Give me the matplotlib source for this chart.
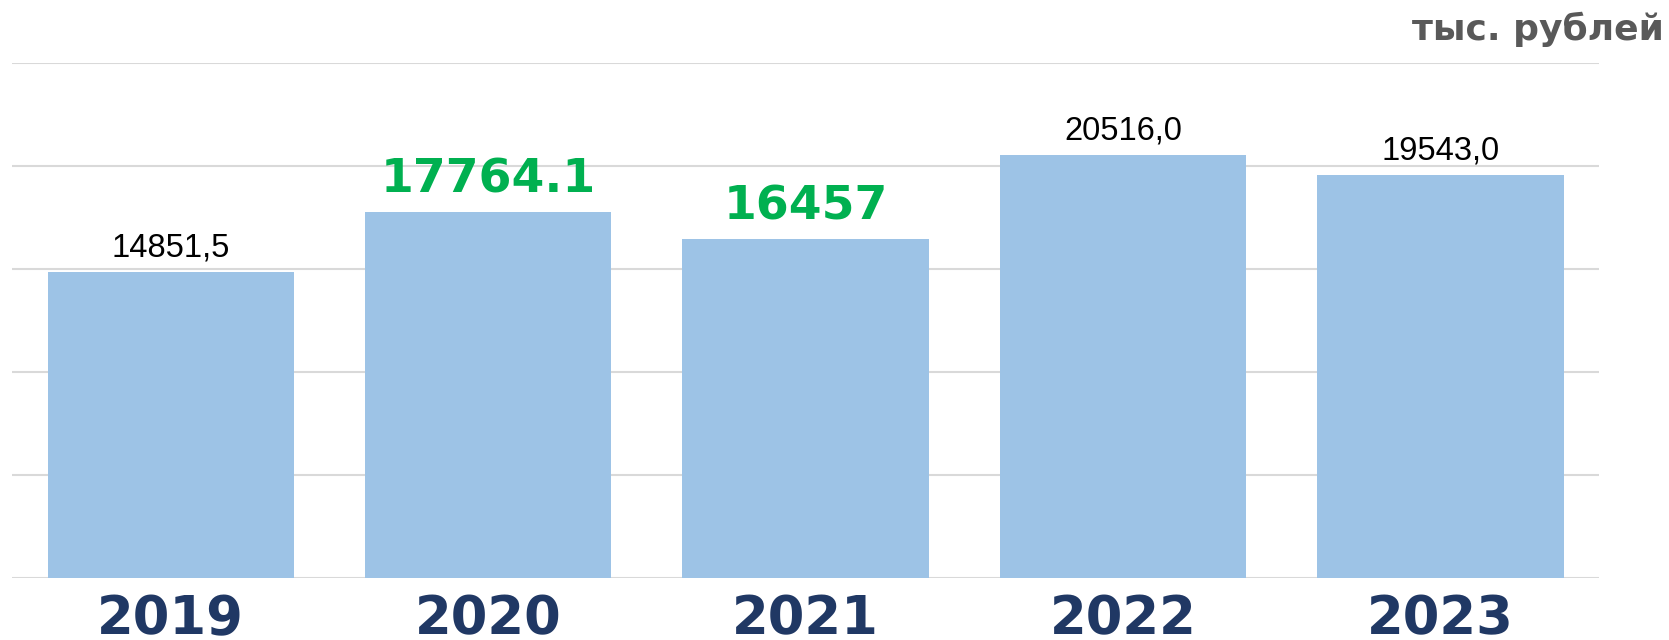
import matplotlib.pyplot as plt

years = ["2019", "2020", "2021", "2022", "2023"]
values = [14851.5, 17764.1, 16457, 20516.0, 19543.0]
labels = ["14851,5", "17764.1", "16457", "20516,0", "19543,0"]
highlight = [False, True, True, False, False]

fig = plt.figure(figsize=(16.69, 6.4), dpi=100)
ax = fig.add_axes([0.0072, 0.097, 0.951, 0.805])

x = range(len(years))
ax.bar(x, values, width=0.776, color="#9DC3E6", linewidth=0, zorder=2)

for i, (v, lab, hl) in enumerate(zip(values, labels, highlight)):
    if hl:
        ax.annotate(lab, (i, v), xytext=(0, 14), textcoords="offset points",
                    ha="center", va="baseline", fontsize=34, fontweight="bold",
                    color="#00B050", family="DejaVu Sans")
    else:
        ax.annotate(lab, (i, v), xytext=(0, 11), textcoords="offset points",
                    ha="center", va="baseline", fontsize=23.5, color="black",
                    family=["Liberation Sans Narrow", "Liberation Sans"])

ax.set_xlim(-0.5, 4.5)
ax.set_ylim(0, 25000)
ax.set_yticks(range(0, 25001, 5000))
ax.yaxis.grid(True, color="#D9D9D9", linewidth=1.5, zorder=0)
ax.set_axisbelow(True)
ax.tick_params(axis="y", left=False, labelleft=False)
ax.set_xticks(list(x))
ax.set_xticklabels(years, fontsize=38, fontweight="bold", color="#203864")
ax.tick_params(axis="x", length=0, pad=11)
for s in ax.spines.values():
    s.set_visible(False)

fig.text(0.997, 0.938, "тыс. рублей", ha="right", va="baseline",
         fontsize=26, fontweight="bold", color="#595959")

fig.savefig("out.png", dpi=100)
plt.close(fig)
